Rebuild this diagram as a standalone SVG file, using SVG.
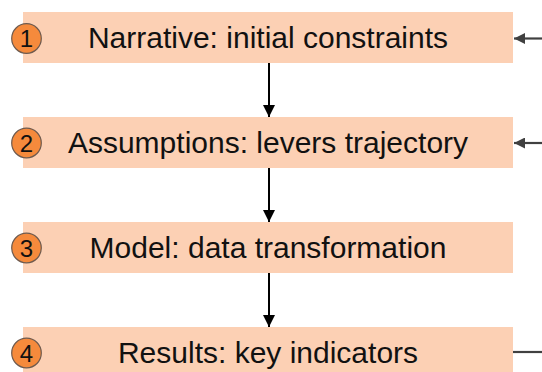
<svg xmlns="http://www.w3.org/2000/svg" width="542" height="372" viewBox="0 0 542 372">
<defs>
<style>
.box{fill:#FCD0B4}
.lbl{font-family:"Liberation Sans",Arial,sans-serif;font-size:30px;fill:#111;text-anchor:middle}
.num{fill:#F58A3C;stroke:#6E5A4E;stroke-width:1.2}
.nt{font-family:"Liberation Sans",Arial,sans-serif;font-size:24px;fill:#111;text-anchor:middle}
.down{stroke:#000;stroke-width:2;fill:none;marker-end:url(#ah)}
.side{stroke:#404040;stroke-width:2.2;fill:none}
</style>
<marker id="ah" markerWidth="12" markerHeight="12" refX="10" refY="5" orient="auto" markerUnits="userSpaceOnUse" viewBox="0 0 10 10">
<path d="M0,0 L10,5 L0,10 z" fill="#000"/>
</marker>
<marker id="ahg" markerWidth="13" markerHeight="11" refX="10" refY="5" orient="auto" markerUnits="userSpaceOnUse" viewBox="0 0 10 10">
<path d="M0,0 L10,5 L0,10 z" fill="#404040"/>
</marker>
</defs>
<rect width="542" height="372" fill="#fff"/>
<g id="node1">
<rect class="box" x="23" y="12" width="490" height="51"/>
<circle class="num" cx="26.5" cy="38.5" r="14.8"/>
<text class="nt" x="26.5" y="47">1</text>
<text class="lbl" x="268" y="48">Narrative: initial constraints</text>
</g>
<g id="node2">
<rect class="box" x="23" y="117" width="490" height="51"/>
<circle class="num" cx="26.5" cy="143" r="14.8"/>
<text class="nt" x="26.5" y="151.5">2</text>
<text class="lbl" x="268" y="153">Assumptions: levers trajectory</text>
</g>
<g id="node3">
<rect class="box" x="23" y="222" width="490" height="51"/>
<circle class="num" cx="26.5" cy="248" r="14.8"/>
<text class="nt" x="26.5" y="256.5">3</text>
<text class="lbl" x="268" y="258">Model: data transformation</text>
</g>
<g id="node4">
<rect class="box" x="23" y="327" width="490" height="51"/>
<circle class="num" cx="26.5" cy="353" r="14.8"/>
<text class="nt" x="26.5" y="361.5">4</text>
<text class="lbl" x="268" y="363">Results: key indicators</text>
</g>
<g id="connectors">
<line class="down" x1="269" y1="63" x2="269" y2="117"/>
<line class="down" x1="269" y1="168" x2="269" y2="222"/>
<line class="down" x1="269" y1="273" x2="269" y2="327"/>
<line class="side" x1="542" y1="38.5" x2="514" y2="38.5" marker-end="url(#ahg)"/>
<line class="side" x1="542" y1="143" x2="514" y2="143" marker-end="url(#ahg)"/>
<line class="side" x1="513" y1="352" x2="542" y2="352"/>
</g>
</svg>
